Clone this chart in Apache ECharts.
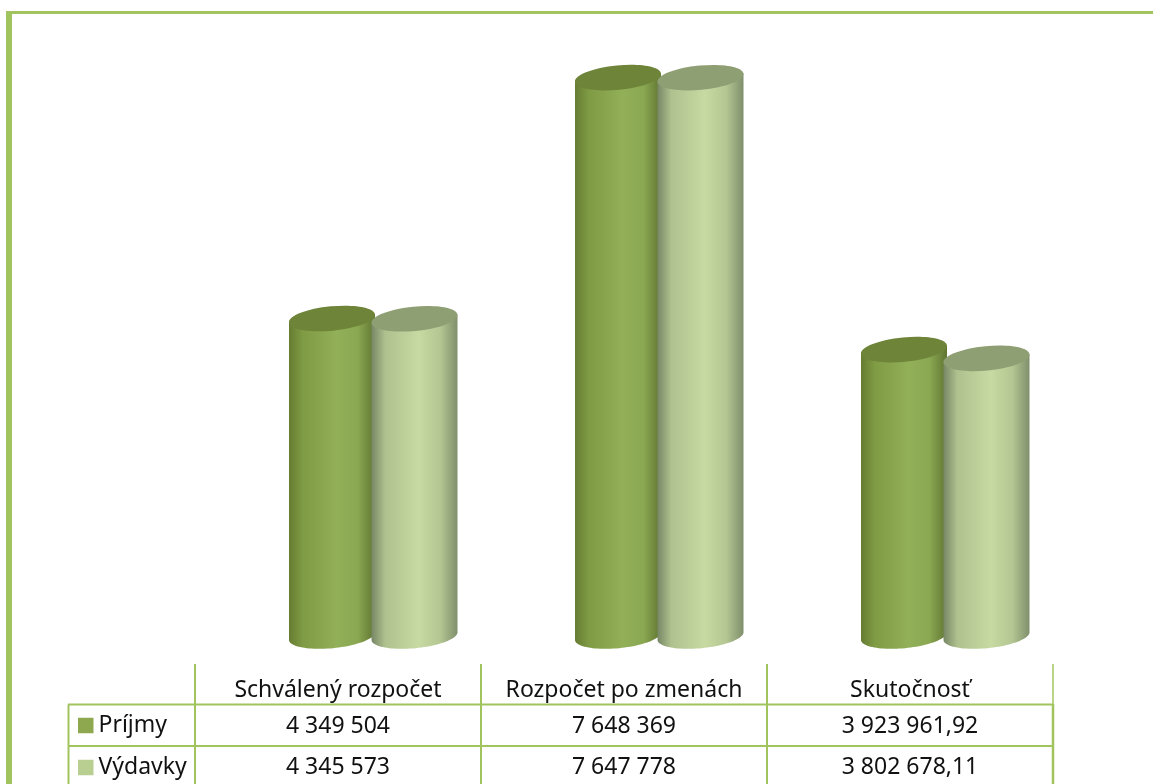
<!DOCTYPE html>
<html><head><meta charset="utf-8">
<style>html,body{margin:0;padding:0;background:#fff}#c{width:1153px;height:784px}</style>
<script src="https://cdn.jsdelivr.net/npm/echarts@6/dist/echarts.min.js"></script>
</head><body><div id="c"></div>
<script>
const categories = ['Schválený rozpočet', 'Rozpočet po zmenách', 'Skutočnosť'];
const prijmy = [4349504, 7648369, 3923961.92];
const vydavky = [4345573, 7647778, 3802678.11];
const prijmyLabels = ['4 349 504', '7 648 369', '3 923 961,92'];
const vydavkyLabels = ['4 345 573', '7 647 778', '3 802 678,11'];
const seriesNames = ['Príjmy', 'Výdavky'];

const FONT = '"Noto Sans", sans-serif';
const LINE = '#a2c45f';
const RX = 43.2, RY = 12.2, TILT = -5.5 * Math.PI / 180;
const styles = [
  {offset: -0.0210, top: '#6e8439', legend: '#8ea84f',
   stops: ['#667c32', '#7f9b44', '#92b058', '#8aa752', '#5f7530']},
  {offset: 0.2675, top: '#8f9f74', legend: '#b9cf92',
   stops: ['#778766', '#afc18e', '#c7daa2', '#b4c692', '#7f8f6c']}
];
function ellipsePoint(cx, cy, t) {
  const x = RX * Math.cos(t), y = RY * Math.sin(t);
  return [cx + x * Math.cos(TILT) - y * Math.sin(TILT),
          cy + x * Math.sin(TILT) + y * Math.cos(TILT)];
}
function cylinder(s) {
  return function (params, api) {
    const band = api.size([1, 0])[0];
    const top = api.coord([api.value(0), api.value(1)]);
    const base = api.coord([api.value(0), 0]);
    const cx = top[0] + s.offset * band;
    const poly = [ellipsePoint(cx, top[1], 0)];
    for (let i = 0; i <= 48; i++) poly.push(ellipsePoint(cx, base[1], i / 48 * Math.PI));
    poly.push(ellipsePoint(cx, top[1], Math.PI));
    const st = s.stops;
    return {type: 'group', children: [
      {type: 'polygon', shape: {points: poly}, style: {fill: new echarts.graphic.LinearGradient(0, 0, 1, 0, [
        {offset: 0, color: st[0]}, {offset: 0.16, color: st[1]}, {offset: 0.55, color: st[2]},
        {offset: 0.8, color: st[3]}, {offset: 1, color: st[4]}])}},
      {type: 'ellipse', x: cx, y: top[1], rotation: -TILT, originX: 0, originY: 0,
       shape: {cx: 0, cy: 0, rx: RX, ry: RY}, style: {fill: s.top}}
    ]};
  };
}
const colX = [195, 481, 767, 1053];
const rowY = [704.5, 746];
function vline(x, y1, y2, w) {
  return {type: 'line', shape: {x1: x, y1: y1, x2: x, y2: y2}, style: {stroke: LINE, lineWidth: w}};
}
function hline(x1, x2, y, w) {
  return {type: 'line', shape: {x1: x1, y1: y, x2: x2, y2: y}, style: {stroke: LINE, lineWidth: w}};
}
function rowTexts(labels, y) {
  return labels.map(function (t, i) {
    return {type: 'text', x: (colX[i] + colX[i + 1]) / 2, y: y,
      style: {text: t, fill: '#111', font: '23px ' + FONT, textAlign: 'center', textVerticalAlign: 'middle'}};
  });
}
const chart = echarts.init(document.getElementById('c'), null, {renderer: 'canvas'});
chart.setOption({
  animation: false,
  backgroundColor: '#fff',
  grid: {left: 195, width: 858, top: 52, height: 584},
  legend: {orient: 'vertical', left: 78, top: 714, padding: 0, itemWidth: 15.5, itemHeight: 15.5, itemGap: 19,
    icon: 'rect', textStyle: {fontFamily: FONT, fontSize: 23, color: '#111'},
    selectedMode: false, data: seriesNames},
  xAxis: {type: 'category', data: categories, axisLine: {show: false}, axisTick: {show: false},
    axisLabel: {color: '#111', fontFamily: FONT, fontSize: 23, margin: 43, interval: 0}},
  yAxis: {type: 'value', min: 0, max: 8000000, interval: 1000000, show: false},
  series: [
    {name: seriesNames[0], type: 'custom', renderItem: cylinder(styles[0]), itemStyle: {color: styles[0].legend},
     encode: {x: 0, y: 1}, data: prijmy.map(function (v, i) { return [i, v]; }), clip: false},
    {name: seriesNames[1], type: 'custom', renderItem: cylinder(styles[1]), itemStyle: {color: styles[1].legend},
     encode: {x: 0, y: 1}, data: vydavky.map(function (v, i) { return [i, v]; }), clip: false}
  ],
  graphic: [
    {type: 'rect', shape: {x: 6, y: 11, width: 6, height: 773}, style: {fill: LINE}},
    {type: 'rect', shape: {x: 6, y: 11, width: 1147, height: 3}, style: {fill: LINE}},
    hline(68, colX[3], rowY[0], 2), hline(68, colX[3], rowY[1], 2),
    vline(68.5, rowY[0], 784, 2),
    vline(colX[0], 664, 784, 2), vline(colX[1], 664, 784, 2), vline(colX[2], 664, 784, 2),
    vline(colX[3], 664, 704, 1.5), vline(colX[3], 704, 784, 2.5)
  ].concat(rowTexts(prijmyLabels, 726), rowTexts(vydavkyLabels, 767.5))
});
</script></body></html>
